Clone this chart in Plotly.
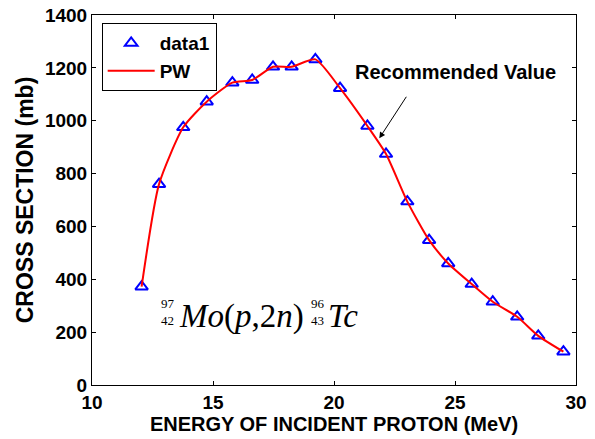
import plotly.graph_objects as go

# Mo-97(p,2n)Tc-96 cross section
energy = [12.05, 12.77, 13.77, 14.74, 15.80, 16.62, 17.48, 18.25, 19.23, 20.25,
          21.38, 22.15, 23.03, 23.93, 24.72, 25.69, 26.56, 27.57, 28.44, 29.48]
sigma = [372, 760, 975, 1072, 1144, 1154, 1204, 1204, 1232, 1123,
         980, 874, 694, 548, 460, 382, 315, 258, 186, 126]

x_ticks = [10, 15, 20, 25, 30]
y_ticks = [0, 200, 400, 600, 800, 1000, 1200, 1400]

bold = dict(family="Liberation Sans, Arial", size=19, color="black", weight="bold")
serif = "Liberation Serif, Times New Roman"

fig = go.Figure()
fig.add_trace(go.Scatter(
    x=energy, y=sigma, mode="markers", name="data1",
    marker=dict(symbol="triangle-up-open", size=11, color="#0000ff",
                line=dict(width=2, color="#0000ff"))
))
fig.add_trace(go.Scatter(
    x=energy, y=sigma, mode="lines", name="PW",
    line=dict(color="#ff0000", width=2, shape="spline", smoothing=0.6)
))

axis = dict(showgrid=False, zeroline=False, showline=True, linecolor="black",
            linewidth=1, mirror="ticks", ticks="inside", ticklen=4,
            tickcolor="black", tickfont=bold, automargin=False,
            ticklabeloverflow="allow")

fig.update_layout(
    width=595, height=439,
    margin=dict(l=92, r=19, t=15, b=54),
    paper_bgcolor="white", plot_bgcolor="white",
    showlegend=True,
    legend=dict(x=0.02, y=0.978, xanchor="left", yanchor="top",
                bgcolor="white", bordercolor="black", borderwidth=1,
                font=bold, itemwidth=47, tracegroupgap=0),
    xaxis=dict(axis, range=[10, 30], tickvals=x_ticks,
               title=dict(text="ENERGY OF INCIDENT PROTON (MeV)",
                          font=dict(bold, size=20), standoff=4)),
    yaxis=dict(axis, range=[0, 1400], tickvals=y_ticks,
               title=dict(text="CROSS SECTION (mb)",
                          font=dict(bold, size=23), standoff=4)),
)

# annotation with arrow
fig.add_annotation(xref="paper", yref="paper", x=0.75, y=0.845,
                   xanchor="center", yanchor="middle",
                   text="<b>Recommended Value</b>", showarrow=False,
                   font=dict(bold, size=20))
fig.add_annotation(xref="paper", yref="paper", x=0.5936, y=0.6668,
                   text="", showarrow=True, ax=28, ay=-43,
                   arrowhead=2, arrowsize=1.2, arrowwidth=1, arrowcolor="black")

# reaction label: 97/42 Mo(p,2n) 96/43 Tc
small = dict(family=serif, size=13, color="black")
big = dict(family=serif, size=33, color="black")
fig.add_annotation(xref="paper", yref="paper", x=0.174, y=0.197,
                   xanchor="right", yanchor="middle",
                   text="97<br>42", showarrow=False, font=small, borderpad=0)
fig.add_annotation(xref="paper", yref="paper", x=0.177, y=0.186,
                   xanchor="left", yanchor="middle",
                   text="<i>Mo</i>(<i>p</i>,2<i>n</i>)", showarrow=False, font=big,
                   borderpad=0)
fig.add_annotation(xref="paper", yref="paper", x=0.484, y=0.197,
                   xanchor="right", yanchor="middle",
                   text="96<br>43", showarrow=False, font=small, borderpad=0)
fig.add_annotation(xref="paper", yref="paper", x=0.486, y=0.186,
                   xanchor="left", yanchor="middle",
                   text="<i>Tc</i>", showarrow=False, font=big, borderpad=0)

# drop the default 8px page margin so the figure fills the window
fig.write_html("out.html", config={"displayModeBar": False},
               post_script="document.body.style.margin='0';"
                           "document.body.style.overflow='hidden';")
